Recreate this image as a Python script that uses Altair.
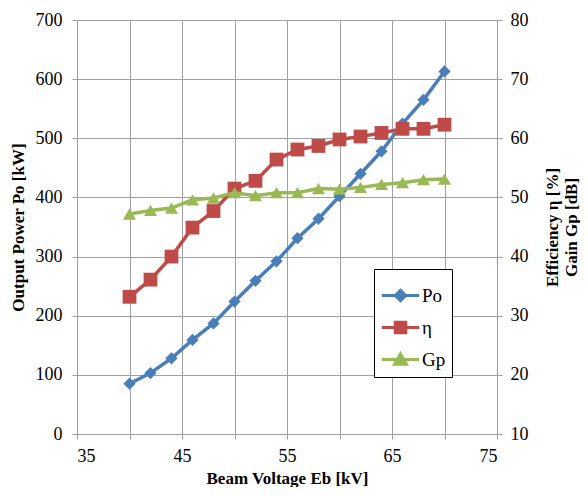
import altair as alt
import pandas as pd

voltage = [40, 42, 44, 46, 48, 50, 52, 54, 56, 58, 60, 62, 64, 66, 68, 70]
power = [85, 103, 128, 159, 187, 224, 259, 292, 331, 364, 402, 440, 478, 525, 565, 613]
efficiency = [33.2, 36.1, 40.0, 44.9, 47.7, 51.5, 52.8, 56.4, 58.1, 58.7, 59.8, 60.3, 60.9, 61.6, 61.6, 62.3]
gain = [47.2, 47.8, 48.2, 49.6, 49.9, 50.8, 50.3, 50.8, 50.8, 51.5, 51.4, 51.7, 52.2, 52.5, 53.0, 53.1]

series_names = ["Po", "η", "Gp"]
series_colors = ["#4A7EBB", "#BE4B48", "#98B954"]

x_ticks = [35, 40, 45, 50, 55, 60, 65, 70, 75]
left_ticks = [0, 100, 200, 300, 400, 500, 600, 700]
right_ticks = [10, 20, 30, 40, 50, 60, 70, 80]

df = pd.DataFrame({"Eb": voltage, "Po": power, "eta": efficiency, "Gp": gain})
legend_df = pd.DataFrame({"series": series_names})

FONT = "Liberation Serif"
GRID = "#A0A0A0"

common = dict(
    labelFont=FONT,
    labelFontSize=18,
    labelColor="black",
    titleFont=FONT,
    titleFontSize=17,
    titleFontWeight="bold",
    titleColor="black",
    domainColor=GRID,
    tickColor=GRID,
    tickSize=5,
)

x_axis = alt.Axis(
    values=x_ticks,
    labelExpr="datum.value % 10 == 5 ? datum.label : ''",
    title="Beam Voltage Eb [kV]",
    grid=True,
    gridColor=GRID,
    labelPadding=8,
    titlePadding=5,
    **common,
)
left_axis = alt.Axis(
    values=left_ticks,
    title="Output Power Po [kW]",
    grid=True,
    gridColor=GRID,
    labelPadding=10,
    titlePadding=8,
    **common,
)
right_axis = alt.Axis(
    orient="right",
    values=right_ticks,
    title=["Efficiency η [%]", "Gain Gp [dB]"],
    titleAngle=270,
    grid=False,
    labelPadding=8,
    titlePadding=14,
    **common,
)

x_scale = alt.Scale(domain=[35, 75], nice=False)
left_scale = alt.Scale(domain=[0, 700], nice=False)
right_scale = alt.Scale(domain=[10, 80], nice=False)


def xe():
    return alt.X("Eb:Q", scale=x_scale, axis=x_axis)


def yl(field):
    return alt.Y(field, type="quantitative", scale=left_scale, axis=left_axis)


def yr(field):
    return alt.Y(field, type="quantitative", scale=right_scale, axis=right_axis)


base = alt.Chart(df)
po_line = base.mark_line(color=series_colors[0], strokeWidth=3.5).encode(x=xe(), y=yl("Po"))
po_pts = base.mark_point(
    shape="diamond", filled=True, size=150, color=series_colors[0], opacity=1
).encode(x=xe(), y=yl("Po"))

eta_line = base.mark_line(color=series_colors[1], strokeWidth=3.5).encode(x=xe(), y=yr("eta"))
eta_pts = base.mark_point(
    shape="square", filled=True, size=190, color=series_colors[1], opacity=1
).encode(x=xe(), y=yr("eta"))
gp_line = base.mark_line(color=series_colors[2], strokeWidth=3.5).encode(x=xe(), y=yr("Gp"))
gp_pts = base.mark_point(
    shape="triangle-up", filled=True, size=170, color=series_colors[2], opacity=1
).encode(x=xe(), y=yr("Gp"))

legend_shapes = [
    "M-1,0L1,0M0,-0.28L0.28,0L0,0.28L-0.28,0Z",
    "M-1,0L1,0M-0.28,-0.28L0.28,-0.28L0.28,0.28L-0.28,0.28Z",
    "M-1,0L1,0M0,-0.3L0.32,0.26L-0.32,0.26Z",
]
legend_def = alt.Legend(
    title=None,
    orient="none",
    legendX=297,
    legendY=249,
    fillColor="white",
    strokeColor="black",
    padding=6,
    rowPadding=0,
    symbolStrokeWidth=3,
    symbolSize=1400,
    symbolOpacity=1,
    labelFont=FONT,
    labelFontSize=19,
    labelColor="black",
    labelOffset=1,
)
color_scale = alt.Scale(domain=series_names, range=series_colors)
legend_layer = (
    alt.Chart(legend_df)
    .transform_filter("false")
    .mark_point(filled=True, size=1400, opacity=1)
    .encode(
        color=alt.Color("series:N", scale=color_scale, sort=series_names, legend=legend_def),
        stroke=alt.Stroke("series:N", scale=color_scale, sort=series_names, legend=legend_def),
        shape=alt.Shape(
            "series:N",
            scale=alt.Scale(domain=series_names, range=legend_shapes),
            sort=series_names,
            legend=legend_def,
        ),
    )
)

left = alt.layer(po_line, po_pts)
right = alt.layer(eta_line, eta_pts, gp_line, gp_pts)

chart = (
    alt.layer(left, right, legend_layer)
    .resolve_scale(y="independent")
    .properties(
        width=420,
        height=414,
        autosize="none",
        padding={"left": 69, "top": 12, "right": 83, "bottom": 53},
    )
    .configure(font=FONT)
    .configure_view(stroke=None)
    .configure_axis(gridWidth=1, domainWidth=1)
)

chart.save("out.html", embed_options={"renderer": "svg", "actions": False})
